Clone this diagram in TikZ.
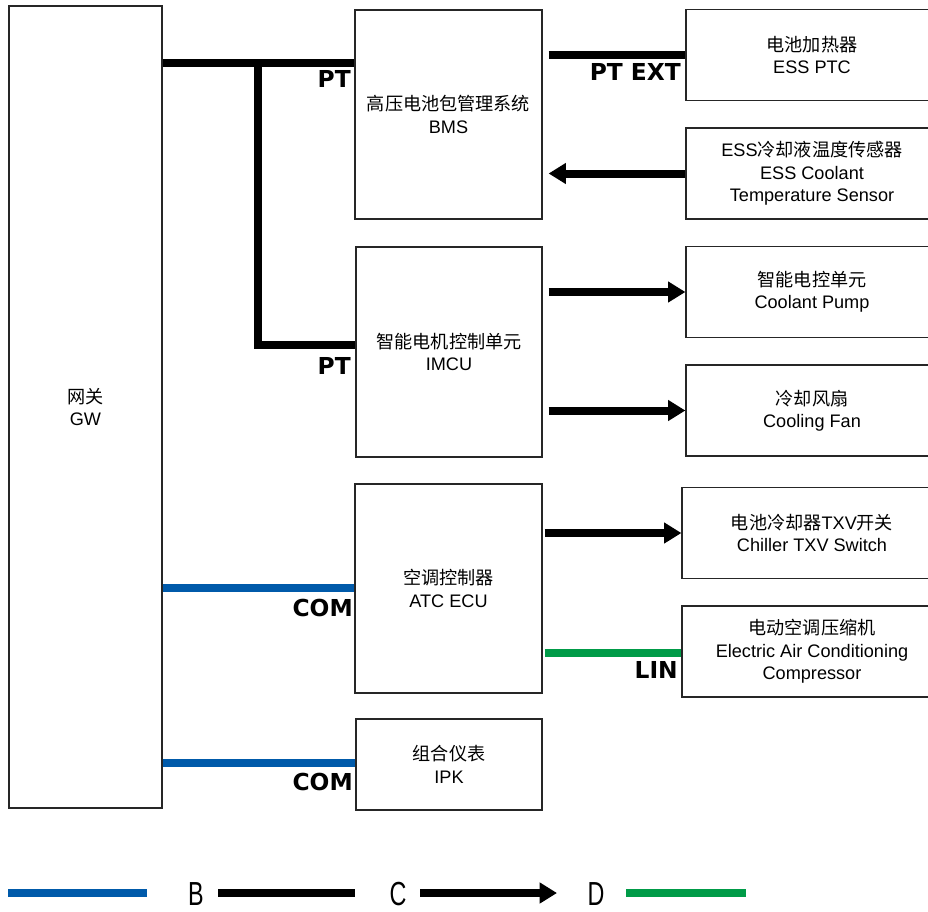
\documentclass[tikz,border=0pt]{standalone}
\usepackage{fontspec}
\setmainfont{Liberation Sans}
\newfontfamily\cjk{Noto Sans CJK SC}
\newfontfamily\tagfont{DejaVu Sans}
\usetikzlibrary{arrows.meta, positioning, calc}
\definecolor{busblue}{RGB}{0, 90, 170}
\definecolor{lingreen}{RGB}{0, 155, 72}
\tikzset{
  ecubox/.style={rectangle, draw=black!85, line width=0.9pt, align=center, inner sep=0pt, font=\fontsize{13.6}{16.8}\selectfont},
  sidebox/.style={ecubox, minimum width=189pt, minimum height=68.25pt},
  ptline/.style={line width=6pt, black},
  comline/.style={line width=5.5pt, busblue},
  linline/.style={line width=5.5pt, lingreen},
  sigarrow/.style={-{Triangle[length=13pt, width=15pt]}, line width=6pt, black},
  buslabel/.style={anchor=north east, inner sep=0pt, font=\tagfont\bfseries\fontsize{17.5}{17.5}\selectfont},
  keylabel/.style={inner sep=0pt, font=\fontsize{25}{25}\selectfont}
}
\begin{document}
\begin{tikzpicture}[x=0.75pt, y=-0.75pt]
    \useasboundingbox (0,0) rectangle (928,911);

    % gateway and controllers
    \node[ecubox, minimum width=114.75pt, minimum height=601.5pt] (gw) at (85.5,407) {{\cjk 网关}\\GW};
    \node[ecubox, minimum width=140.25pt, minimum height=156.75pt] (bms) at (448.5,114.5) {{\cjk 高压电池包管理系统}\\BMS};
    \node[ecubox, minimum width=139.5pt, minimum height=157.5pt] (imcu) at (449,352) {{\cjk 智能电机控制单元}\\IMCU};
    \node[ecubox, minimum width=140.25pt, minimum height=156.75pt] (atc) at (448.5,588.5) {{\cjk 空调控制器}\\ATC ECU};
    \node[ecubox, minimum width=139.5pt, minimum height=68.25pt] (ipk) at (449,764.5) {{\cjk 组合仪表}\\IPK};

    % actuators and sensors (cut at the right edge)
    \node[sidebox] (ptc) at (812,55) {{\cjk 电池加热器}\\ESS PTC};
    \node[sidebox] (sensor) at (812,173.5) {ESS{\cjk 冷却液温度传感器}\\ESS Coolant\\Temperature Sensor};
    \node[sidebox] (pump) at (812,292) {{\cjk 智能电控单元}\\Coolant Pump};
    \node[sidebox] (fan) at (812,410.5) {{\cjk 冷却风扇}\\Cooling Fan};
    \node[sidebox, minimum width=195pt] (txv) at (812,533) {{\cjk 电池冷却器}TXV{\cjk 开关}\\Chiller TXV Switch};
    \node[sidebox, minimum width=195pt] (comp) at (812,651.5) {{\cjk 电动空调压缩机}\\Electric Air Conditioning\\Compressor};

    % PT bus
    \coordinate (ptfork) at (258,63);
    \draw[ptline] (gw.east |- ptfork) -- (bms.west |- ptfork);
    \draw[ptline] (ptfork) |- (imcu.west |- 0,345);
    \node[buslabel] (ptlbl1) at (351,70) {PT};
    \node[buslabel] (ptlbl2) at (351,357) {PT};

    % PT EXT
    \draw[ptline] ([xshift=4.5pt]bms.east |- ptc.west) -- (ptc.west);
    \node[buslabel] (ptextlbl) at (681,63) {PT EXT};

    % hard wired signals
    \draw[sigarrow] (sensor.west) -- ([xshift=4.5pt]bms.east |- sensor.west);
    \draw[sigarrow] ([xshift=4.5pt]imcu.east |- pump.west) -- (pump.west);
    \draw[sigarrow] ([xshift=4.5pt]imcu.east |- fan.west) -- (fan.west);
    \draw[sigarrow] ([xshift=1.5pt]atc.east |- txv.west) -- (txv.west);

    % LIN
    \draw[linline] ([xshift=1.5pt]atc.east |- 0,653) -- (comp.west |- 0,653);
    \node[buslabel] (linlbl) at (678,661) {LIN};

    % COM bus
    \draw[comline] (gw.east |- 0,588) -- (atc.west |- 0,588);
    \node[buslabel] (comlbl1) at (353,599) {COM};
    \draw[comline] (gw.east |- 0,763) -- (ipk.west |- 0,763);
    \node[buslabel] (comlbl2) at (353,773) {COM};

    % legend
    \coordinate (ka1) at (8,893);
    \coordinate (ka2) at (147,893);
    \draw[comline] (ka1) -- (ka2);
    \node[keylabel] (keyb) at (196,894) {\scalebox{0.7}[1]{B}};
    \coordinate (kb1) at (218,893);
    \coordinate (kb2) at (355,893);
    \draw[ptline] (kb1) -- (kb2);
    \node[keylabel] (keyc) at (398,894) {\scalebox{0.7}[1]{C}};
    \coordinate (kc1) at (420,893);
    \coordinate (kc2) at (557,893);
    \draw[sigarrow] (kc1) -- (kc2);
    \node[keylabel] (keyd) at (596,894) {\scalebox{0.7}[1]{D}};
    \coordinate (kd1) at (626,893);
    \coordinate (kd2) at (746,893);
    \draw[linline] (kd1) -- (kd2);
\end{tikzpicture}
\end{document}
